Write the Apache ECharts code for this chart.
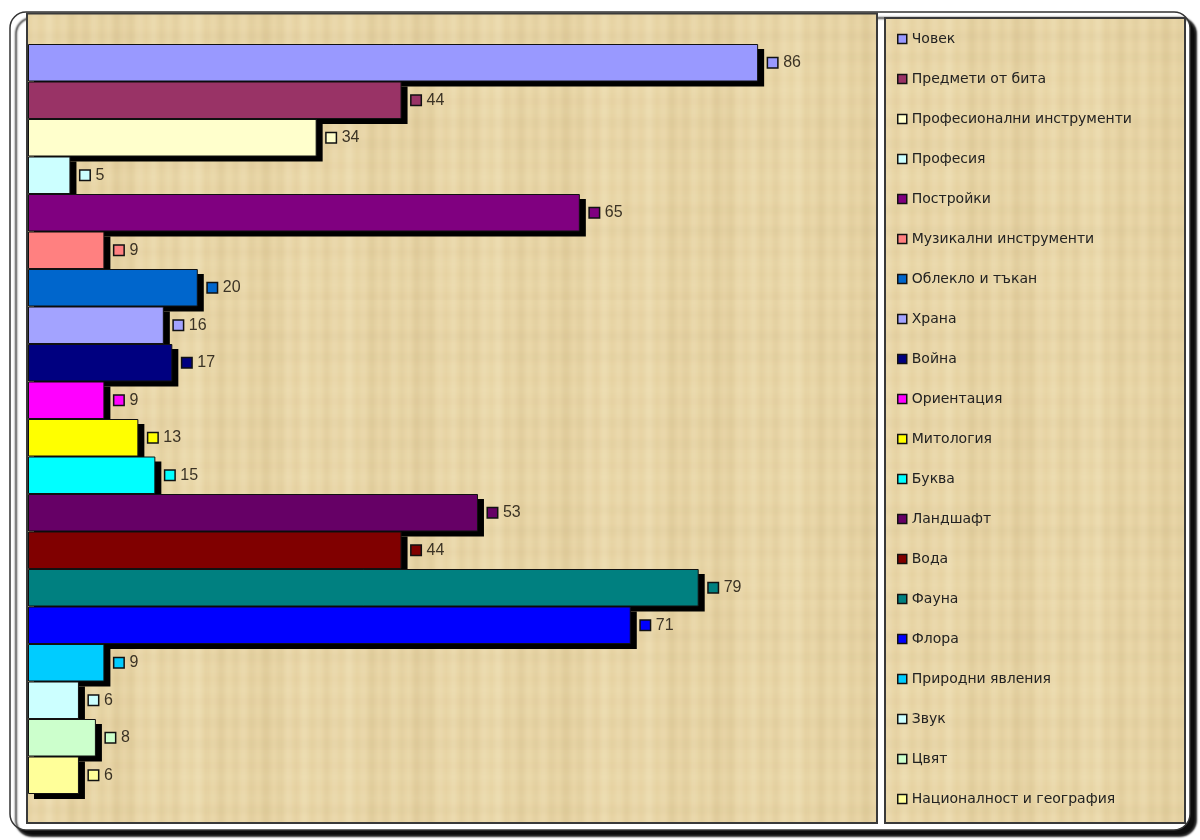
<!DOCTYPE html>
<html>
<head>
<meta charset="utf-8">
<script src="https://cdn.jsdelivr.net/npm/echarts@6/dist/echarts.min.js"></script>
<style>html,body{margin:0;padding:0;background:#fff;}#c{width:1200px;height:840px;}</style>
</head>
<body>
<div id="c"></div>
<script>
var seriesNames = ["Човек","Предмети от бита","Професионални инструменти","Професия","Постройки","Музикални инструменти","Облекло и тъкан","Храна","Война","Ориентация","Митология","Буква","Ландшафт","Вода","Фауна","Флора","Природни явления","Звук","Цвят","Националност и география"];
var seriesValues = [86,44,34,5,65,9,20,16,17,9,13,15,53,44,79,71,9,6,8,6];
var seriesColors = ["#9999FF","#993366","#FFFFCC","#CCFFFF","#800080","#FF8080","#0066CC","#A3A3FF","#000080","#FF00FF","#FFFF00","#00FFFF","#660066","#800000","#008080","#0000FF","#00CCFF","#CCFFFF","#CCFFCC","#FFFF99"];
var categories = [""];

// papyrus-like texture (deterministic decoration)
function makePaper(){
  var W = 300, H = 300;
  var c = document.createElement('canvas'); c.width = W; c.height = H;
  var g = c.getContext('2d');
  g.fillStyle = '#E8D5A6'; g.fillRect(0,0,W,H);
  for (var x = 0; x < W; x++) {
    var a = 0.45*Math.sin(x*0.42) + 0.35*Math.sin(x*0.131 + 1.3) + 0.3*Math.sin(x*0.041 + 0.4);
    g.fillStyle = a > 0 ? 'rgba(255,248,220,' + (a*0.20) + ')' : 'rgba(150,120,60,' + (-a*0.09) + ')';
    g.fillRect(x, 0, 1, H);
  }
  for (var y = 0; y < H; y++) {
    var b = 0.5*Math.sin(y*0.29 + 0.7) + 0.3*Math.sin(y*0.067 + 2.1);
    g.fillStyle = b > 0 ? 'rgba(255,246,215,' + (b*0.07) + ')' : 'rgba(140,110,55,' + (-b*0.04) + ')';
    g.fillRect(0, y, W, 1);
  }
  return c;
}
var paper = {image: makePaper(), repeat: 'repeat'};

var chart = echarts.init(document.getElementById('c'));
var series = [];
// shadow bars (drawn in an offset copy of the grid)
seriesNames.forEach(function(n, i){
  series.push({
    name: '', type: 'bar', xAxisIndex: 1, yAxisIndex: 1, z: 2, barWidth: 37.5, barGap: '0%',
    data: [seriesValues[i]], silent: true,
    itemStyle: {color: '#000'}, label: {show: false}, emphasis: {disabled: true}
  });
});
seriesNames.forEach(function(n, i){
  series.push({
    name: n, type: 'bar', z: 3, barWidth: 37.5, barGap: '0%',
    data: [seriesValues[i]],
    itemStyle: {color: seriesColors[i], borderColor: '#111', borderWidth: 1},
    label: {show: true, position: 'right', distance: 10,
      formatter: function(p){ return '{s|}{v|' + p.value + '}'; },
      rich: {
        s: {width: 9, height: 9, backgroundColor: seriesColors[i], borderColor: '#111', borderWidth: 1.5},
        v: {fontSize: 16, color: '#3b3325', fontFamily: 'Liberation Sans', padding: [0,0,0,6]}
      }
    },
    emphasis: {disabled: true}
  });
});
chart.setOption({
  animation: false,
  backgroundColor: '#fff',
  grid: [
    {left: 28, right: 323, top: 14, bottom: 16},
    {left: 34, right: 317, top: 19, bottom: 11}
  ],
  xAxis: [
    {type: 'value', min: 0, max: 100, show: false, gridIndex: 0},
    {type: 'value', min: 0, max: 100, show: false, gridIndex: 1}
  ],
  yAxis: [
    {type: 'category', data: categories, show: false, gridIndex: 0},
    {type: 'category', data: categories, show: false, gridIndex: 1}
  ],
  legend: {
    orient: 'vertical', left: 897, top: 32, padding: 0,
    itemWidth: 9, itemHeight: 9, itemGap: 26, itemTextGap: 10, icon: 'rect', selectedMode: false,
    itemStyle: {borderColor: '#111', borderWidth: 1.5},
    textStyle: {fontSize: 14, lineHeight: 14, color: '#222', fontFamily: 'DejaVu Sans'},
    data: seriesNames
  },
  graphic: [
    {type: 'rect', z: 0, shape: {x: 10, y: 12, width: 1180, height: 818, r: 16},
      style: {fill: '#fff', stroke: '#333', lineWidth: 1.5, shadowColor: 'rgba(0,0,0,0.95)', shadowBlur: 2, shadowOffsetX: 6, shadowOffsetY: 6}},
    {type: 'rect', z: 1, shape: {x: 27, y: 13.5, width: 850, height: 809.5},
      style: {fill: paper, stroke: '#3a3a3a', lineWidth: 2}},
    {type: 'rect', z: 1, shape: {x: 885, y: 18, width: 300, height: 805},
      style: {fill: paper, stroke: '#3a3a3a', lineWidth: 2}}
  ],
  series: series
});
</script>
</body>
</html>
